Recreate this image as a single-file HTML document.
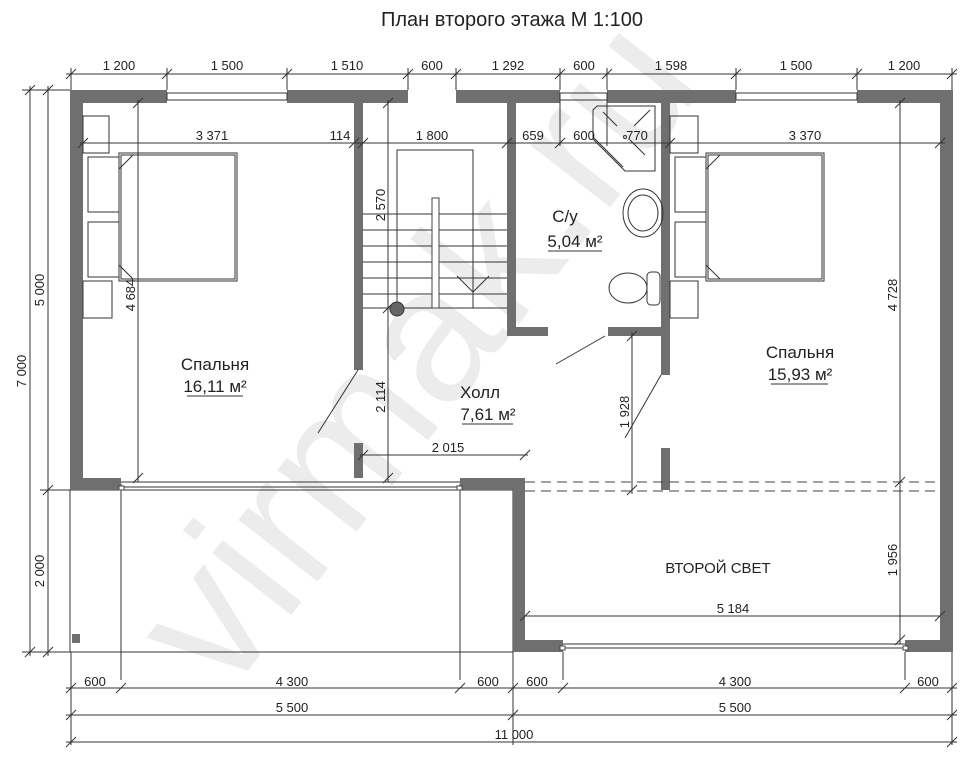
<!DOCTYPE html>
<html><head><meta charset="utf-8"><style>
html,body{margin:0;padding:0;background:#fff;width:963px;height:768px;overflow:hidden}
svg{display:block}
text{font-family:"Liberation Sans Narrow","Liberation Sans",sans-serif;fill:#222}
.d{font-size:13px}
.w{fill:#6f6f6f}
.l{stroke:#333;stroke-width:1;fill:none}
.f{stroke:#444;stroke-width:1;fill:#fff}
</style></head><body>
<svg width="963" height="768" viewBox="0 0 963 768" xmlns="http://www.w3.org/2000/svg">
<defs><path id="t" d="M-5,5 L5,-5" stroke="#333" stroke-width="1"/></defs>
<!-- watermark -->
<text x="0" y="0" transform="translate(225,700) rotate(-52)" style="font-family:'Liberation Sans',sans-serif;font-size:190px;fill:#ececec">virmak.ru</text>

<text x="512" y="26" text-anchor="middle" style="font-size:20px">План второго этажа М 1:100</text>

<!-- top dimension line -->
<line class="l" x1="66" y1="74" x2="957" y2="74"/>
<g>
<use href="#t" x="71" y="74"/><use href="#t" x="167" y="74"/><use href="#t" x="287" y="74"/><use href="#t" x="408" y="74"/><use href="#t" x="456" y="74"/><use href="#t" x="560" y="74"/><use href="#t" x="607" y="74"/><use href="#t" x="736" y="74"/><use href="#t" x="857" y="74"/><use href="#t" x="952" y="74"/>
</g>
<g class="l"><line x1="71" y1="68" x2="71" y2="90"/><line x1="167" y1="68" x2="167" y2="90"/><line x1="287" y1="68" x2="287" y2="90"/><line x1="408" y1="68" x2="408" y2="90"/><line x1="456" y1="68" x2="456" y2="90"/><line x1="560" y1="68" x2="560" y2="90"/><line x1="607" y1="68" x2="607" y2="90"/><line x1="736" y1="68" x2="736" y2="90"/><line x1="857" y1="68" x2="857" y2="90"/><line x1="952" y1="68" x2="952" y2="90"/></g>
<g class="d" text-anchor="middle">
<text x="119" y="70">1 200</text><text x="227" y="70">1 500</text><text x="347" y="70">1 510</text><text x="432" y="70">600</text><text x="508" y="70">1 292</text><text x="584" y="70">600</text><text x="671" y="70">1 598</text><text x="796" y="70">1 500</text><text x="904" y="70">1 200</text>
</g>

<!-- left vertical dims -->
<g class="l"><line x1="30" y1="86" x2="30" y2="656"/><line x1="48" y1="86" x2="48" y2="656"/><line x1="22" y1="90" x2="70" y2="90"/><line x1="22" y1="652" x2="70" y2="652"/><line x1="40" y1="490" x2="70" y2="490"/></g>
<use href="#t" x="30" y="90"/><use href="#t" x="48" y="90"/><use href="#t" x="30" y="652"/><use href="#t" x="48" y="652"/><use href="#t" x="48" y="490"/>
<text class="d" transform="translate(26,371) rotate(-90)" text-anchor="middle">7 000</text>
<text class="d" transform="translate(44,290) rotate(-90)" text-anchor="middle">5 000</text>
<text class="d" transform="translate(44,571) rotate(-90)" text-anchor="middle">2 000</text>

<!-- lower balcony outline -->
<g class="l">
<rect x="70" y="490" width="443" height="162"/>
<line x1="121" y1="484" x2="121" y2="680"/><line x1="460" y1="484" x2="460" y2="680"/>
<line x1="71" y1="652" x2="71" y2="745"/><line x1="513" y1="652" x2="513" y2="745"/><line x1="952" y1="652" x2="952" y2="745"/>
<line x1="563" y1="652" x2="563" y2="680"/><line x1="905" y1="652" x2="905" y2="680"/>
</g>
<rect x="72" y="634" width="8" height="9" class="w"/>

<!-- walls -->
<g class="w">
<rect x="70" y="90" width="97" height="13"/>
<rect x="287" y="90" width="121" height="13"/>
<rect x="456" y="90" width="104" height="13"/>
<rect x="607" y="90" width="129" height="13"/>
<rect x="857" y="90" width="95" height="13"/>
<rect x="70" y="90" width="13" height="400"/>
<rect x="70" y="478" width="51" height="12"/>
<rect x="460" y="478" width="65" height="12"/>
<rect x="354" y="103" width="9" height="267"/>
<rect x="354" y="443" width="9" height="35"/>
<rect x="507" y="103" width="9" height="233"/>
<rect x="507" y="327" width="41" height="9"/>
<rect x="608" y="327" width="62" height="9"/>
<rect x="661" y="103" width="9" height="272"/>
<rect x="661" y="448" width="9" height="42"/>
<rect x="940" y="90" width="13" height="562"/>
<rect x="513" y="478" width="12" height="174"/>
<rect x="513" y="640" width="50" height="12"/>
<rect x="905" y="640" width="48" height="12"/>
</g>
<!-- windows -->
<g class="l" stroke="#555">
<rect x="167" y="93" width="120" height="7"/><rect x="560" y="93" width="47" height="7"/><rect x="736" y="93" width="121" height="7"/>
<line x1="121" y1="482" x2="460" y2="482"/><line x1="121" y1="487" x2="460" y2="487"/>
<line x1="563" y1="644" x2="905" y2="644"/><line x1="563" y1="648" x2="905" y2="648"/>
</g>
<g class="f"><rect x="119" y="486" width="5" height="4"/><rect x="457" y="486" width="5" height="4"/><rect x="560" y="646" width="5" height="4"/><rect x="903" y="646" width="5" height="4"/></g>
<!-- dashed -->
<g stroke="#444" stroke-dasharray="10,6" fill="none"><line x1="525" y1="482" x2="940" y2="482"/><line x1="525" y1="491" x2="940" y2="491"/></g>
<line class="l" x1="525" y1="616" x2="940" y2="616"/>

<!-- doors -->
<g class="l"><line x1="358" y1="370" x2="318" y2="433"/><line x1="605" y1="336" x2="556" y2="364"/><line x1="661" y1="375" x2="625" y2="438"/></g>

<!-- stairs -->
<g class="l">
<rect x="397" y="150" width="76" height="158"/>
<line x1="363" y1="214" x2="507" y2="214"/><line x1="363" y1="230" x2="507" y2="230"/><line x1="363" y1="246" x2="507" y2="246"/><line x1="363" y1="262" x2="507" y2="262"/><line x1="363" y1="278" x2="507" y2="278"/><line x1="363" y1="294" x2="507" y2="294"/><line x1="363" y1="308" x2="507" y2="308"/>
<polyline points="457,276 473,292 489,276"/>
</g>
<rect x="432" y="198" width="7" height="110" class="f"/>
<circle cx="397" cy="309" r="7" fill="#666" stroke="#333"/>

<!-- furniture left -->
<g class="l">
<rect x="83" y="116" width="26" height="37"/><rect x="83" y="281" width="29" height="37"/>
<rect x="88" y="157" width="31" height="55"/><rect x="88" y="222" width="31" height="55"/>
<rect x="119" y="153" width="118" height="128"/><rect x="121" y="155" width="114" height="124"/>
<line x1="119" y1="169" x2="133" y2="155"/><line x1="119" y1="265" x2="133" y2="279"/>
<!-- right -->
<rect x="670" y="116" width="28" height="37"/><rect x="670" y="281" width="28" height="37"/>
<rect x="675" y="157" width="31" height="55"/><rect x="675" y="222" width="31" height="55"/>
<rect x="706" y="153" width="118" height="128"/><rect x="708" y="155" width="114" height="124"/>
<line x1="706" y1="169" x2="720" y2="155"/><line x1="706" y1="265" x2="720" y2="279"/>
<!-- shower -->
<path d="M597,106 H655 V171 H625 L593,139 V110 Z"/>
<line x1="593" y1="137" x2="623" y2="167"/>
<line x1="603" y1="112" x2="617" y2="126"/><line x1="630" y1="140" x2="645" y2="155"/><line x1="650" y1="110" x2="634" y2="126"/>
<circle cx="625" cy="137" r="1.5"/>
<!-- sink -->
<ellipse cx="643" cy="213" rx="20" ry="24"/><ellipse cx="643" cy="213" rx="15" ry="18"/>
<!-- toilet -->
<ellipse cx="628" cy="288" rx="19" ry="15"/><rect x="647" y="272" width="13" height="33" rx="4"/>
</g>

<!-- interior dims -->
<g class="l">
<line x1="80" y1="143" x2="945" y2="143"/>
<line x1="138" y1="100" x2="138" y2="482"/>
<line x1="388" y1="100" x2="388" y2="482"/>
<line x1="632" y1="332" x2="632" y2="494"/>
<line x1="900" y1="100" x2="900" y2="644"/>
<line x1="360" y1="455" x2="528" y2="455"/>
<line x1="515" y1="143" x2="515" y2="143"/>
<line x1="560" y1="100" x2="560" y2="146"/><line x1="607" y1="100" x2="607" y2="146"/>
</g>
<use href="#t" x="83" y="143"/><use href="#t" x="354" y="143"/><use href="#t" x="363" y="143"/><use href="#t" x="507" y="143"/><use href="#t" x="560" y="143"/><use href="#t" x="670" y="143"/><use href="#t" x="940" y="143"/>
<use href="#t" x="138" y="103"/><use href="#t" x="138" y="478"/><use href="#t" x="388" y="103"/><use href="#t" x="388" y="308"/><use href="#t" x="388" y="478"/><use href="#t" x="632" y="336"/><use href="#t" x="632" y="490"/><use href="#t" x="900" y="103"/><use href="#t" x="900" y="482"/><use href="#t" x="900" y="640"/><use href="#t" x="363" y="455"/><use href="#t" x="525" y="455"/><use href="#t" x="525" y="616"/><use href="#t" x="940" y="616"/>
<g class="d" text-anchor="middle">
<text x="212" y="140">3 371</text><text x="340" y="140">114</text><text x="432" y="140">1 800</text><text x="533" y="140">659</text><text x="584" y="140">600</text><text x="637" y="140">770</text><text x="805" y="140">3 370</text>
<text x="448" y="452">2 015</text><text x="733" y="613">5 184</text>
</g>
<text class="d" transform="translate(135,295) rotate(-90)" text-anchor="middle">4 684</text>
<text class="d" transform="translate(385,205) rotate(-90)" text-anchor="middle">2 570</text>
<text class="d" transform="translate(385,397) rotate(-90)" text-anchor="middle">2 114</text>
<text class="d" transform="translate(629,412) rotate(-90)" text-anchor="middle">1 928</text>
<text class="d" transform="translate(897,295) rotate(-90)" text-anchor="middle">4 728</text>
<text class="d" transform="translate(897,560) rotate(-90)" text-anchor="middle">1 956</text>

<!-- room labels -->
<g text-anchor="middle" style="font-size:17px">
<text x="215" y="370">Спальня</text>
<text x="215" y="392">16,11 м²</text>
<text x="480" y="398">Холл</text>
<text x="488" y="420">7,61 м²</text>
<text x="565" y="222">С/у</text>
<text x="575" y="247">5,04 м²</text>
<text x="800" y="358">Спальня</text>
<text x="800" y="380">15,93 м²</text>
<text x="718" y="573" style="font-size:15px">ВТОРОЙ СВЕТ</text>
</g>
<g class="l"><line x1="187" y1="396" x2="243" y2="396"/><line x1="462" y1="424" x2="513" y2="424"/><line x1="548" y1="251" x2="602" y2="251"/><line x1="771" y1="384" x2="828" y2="384"/></g>

<!-- bottom dims -->
<g class="l"><line x1="66" y1="688" x2="957" y2="688"/><line x1="66" y1="715" x2="957" y2="715"/><line x1="66" y1="742" x2="957" y2="742"/></g>
<use href="#t" x="71" y="688"/><use href="#t" x="121" y="688"/><use href="#t" x="460" y="688"/><use href="#t" x="513" y="688"/><use href="#t" x="563" y="688"/><use href="#t" x="905" y="688"/><use href="#t" x="952" y="688"/>
<use href="#t" x="71" y="715"/><use href="#t" x="513" y="715"/><use href="#t" x="952" y="715"/><use href="#t" x="71" y="742"/><use href="#t" x="952" y="742"/>
<g class="d" text-anchor="middle">
<text x="95" y="686">600</text><text x="292" y="686">4 300</text><text x="488" y="686">600</text><text x="537" y="686">600</text><text x="735" y="686">4 300</text><text x="928" y="686">600</text>
<text x="292" y="712">5 500</text><text x="735" y="712">5 500</text><text x="514" y="739">11 000</text>
</g>
</svg>
</body></html>
